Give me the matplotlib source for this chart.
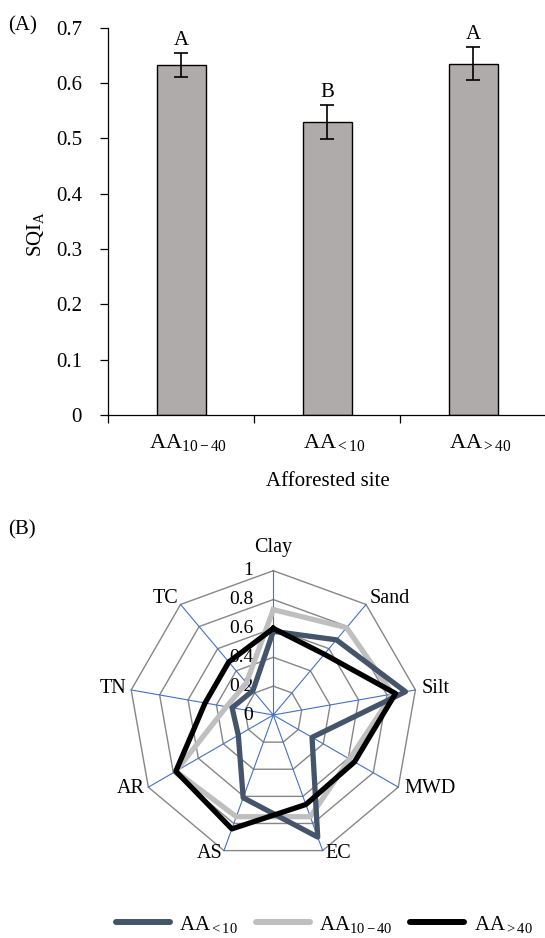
import numpy as np
import matplotlib
matplotlib.use("Agg")
import matplotlib.pyplot as plt
import matplotlib.transforms as mtransforms
from matplotlib.lines import Line2D

plt.rcParams['font.family'] = ['Liberation Serif', 'DejaVu Serif']
plt.rcParams['mathtext.fontset'] = 'custom'
plt.rcParams['mathtext.rm'] = 'Liberation Serif'
plt.rcParams['mathtext.it'] = 'Liberation Serif:italic'
plt.rcParams['mathtext.bf'] = 'Liberation Serif:bold'

# ---- (A) soil quality index per afforested site ----
sites = [r'$\mathrm{AA}_{\mathrm{10-40}}$', r'$\mathrm{AA}_{<10}$', r'$\mathrm{AA}_{>40}$']
sqi_mean = [0.632, 0.529, 0.635]
sqi_err = [0.022, 0.031, 0.030]
sig_letters = ['A', 'B', 'A']
sqi_ticks = [0, 0.1, 0.2, 0.3, 0.4, 0.5, 0.6, 0.7]

# ---- (B) normalised indicator scores ----
indicators = ['Clay', 'Sand', 'Silt', 'MWD', 'EC', 'AS', 'AR', 'TN', 'TC']
aa_lt10 = [0.58, 0.68, 0.93, 0.31, 0.90, 0.61, 0.28, 0.29, 0.22]
aa_10_40 = [0.73, 0.79, 0.84, 0.61, 0.75, 0.75, 0.78, 0.33, 0.29]
aa_gt40 = [0.60, 0.55, 0.86, 0.65, 0.66, 0.84, 0.78, 0.48, 0.48]
radar_ticks = [0, 0.2, 0.4, 0.6, 0.8, 1.0]
radar_tick_labels = ['0', '0.2', '0.4', '0.6', '0.8', '1']
legend_labels = [r'$\mathrm{AA}_{<10}$', r'$\mathrm{AA}_{\mathrm{10-40}}$', r'$\mathrm{AA}_{>40}$']

W, H, DPI = 545, 938, 100
PT = 0.72  # points per pixel at 100 dpi
fig = plt.figure(figsize=(W / DPI, H / DPI), dpi=DPI)

FS = 15

# ---------------- bar chart ----------------
axL, axR = 108.3, 546.5
axT, axB = 27.7, 415.0
ax = fig.add_axes([axL / W, 1 - axB / H, (axR - axL) / W, (axB - axT) / H])
x = np.arange(len(sites))
ax.bar(x, sqi_mean, width=0.333, color='#afabaa', edgecolor='black', linewidth=1.0, zorder=2)
ax.errorbar(x, sqi_mean, yerr=sqi_err, fmt='none', ecolor='black', elinewidth=1.2,
            capsize=5, capthick=1.2, zorder=3)
for xi, m, e, s in zip(x, sqi_mean, sqi_err, sig_letters):
    ax.annotate(s, xy=(xi, m + e), xytext=(0, 8 * PT), textcoords='offset points',
                ha='center', va='baseline', fontsize=FS)
ax.set_xlim(-0.5, 2.5)
ax.set_ylim(0, 0.7)
ax.set_yticks(sqi_ticks)
ax.set_yticklabels(['0' if t == 0 else f'{t:g}' for t in sqi_ticks], fontsize=FS)
ax.tick_params(axis='y', direction='out', length=6, width=0.9, pad=13)
# boundary ticks between categories, labels at category centres
ax.set_xticks([-0.5, 0.5, 1.5, 2.5])
ax.set_xticklabels([])
ax.set_xticks(x, minor=True)
ax.set_xticklabels(sites, minor=True, fontsize=FS + 1)
ax.tick_params(axis='x', which='major', direction='out', length=6, width=0.9)
ax.tick_params(axis='x', which='minor', length=0, pad=12)
shift = mtransforms.ScaledTranslation(7 / DPI, 0, fig.dpi_scale_trans)
for lab in ax.get_xticklabels(minor=True):
    lab.set_transform(lab.get_transform() + shift)
for sp in ['top', 'right']:
    ax.spines[sp].set_visible(False)
for sp in ['left', 'bottom']:
    ax.spines[sp].set_linewidth(0.9)
ax.set_xlabel('Afforested site', fontsize=FS, labelpad=14)
fig.text(35 / W, 1 - 234 / H, r'SQI$_\mathrm{A}$', rotation=90, ha='center', va='center', fontsize=FS)
fig.text(8 / W, 1 - 25.5 / H, '(A)', ha='left', va='center', fontsize=FS)

# ---------------- radar chart ----------------
cx, cy, R = 273.3, 715.0, 144.3
rax = fig.add_axes([(cx - R) / W, 1 - (cy + R) / H, 2 * R / W, 2 * R / H], projection='polar')
rax.set_theta_zero_location('N')
rax.set_theta_direction(-1)
rax.set_ylim(0, 1)
rax.grid(False)
rax.set_xticks([])
rax.set_yticks([])
rax.spines['polar'].set_visible(False)
rax.patch.set_visible(False)

n = len(indicators)
theta = np.arange(n) * 2 * np.pi / n
theta_c = np.append(theta, theta[0])

for r in radar_ticks[1:]:
    rax.plot(theta_c, [r] * (n + 1), color='#868686', lw=1.0, clip_on=False, zorder=1)
for t in theta:
    rax.plot([t, t], [0, 1], color='#4472c4', lw=0.8, clip_on=False, zorder=1)

def closed(v):
    return list(v) + [v[0]]

rax.plot(theta_c, closed(aa_10_40), color='#bfbfbf', lw=3.8, zorder=3, clip_on=False)
rax.plot(theta_c, closed(aa_lt10), color='#44546a', lw=3.8, zorder=4, clip_on=False)
rax.plot(theta_c, closed(aa_gt40), color='black', lw=3.8, zorder=5, clip_on=False)

for r, lab in zip(radar_ticks, radar_tick_labels):
    rax.annotate(lab, xy=(0, r), xytext=(-20 * PT, 0), textcoords='offset points',
                 ha='right', va='center', fontsize=14, zorder=2)

# label offsets (px) and alignment for each indicator
label_style = {
    'Clay': (0, 19, 'center'),
    'Sand': (4, 1.4, 'left'),
    'Silt': (6.6, -2.7, 'left'),
    'MWD': (6, -5.5, 'left'),
    'EC': (2.4, -7.7, 'left'),
    'AS': (-1, -7.7, 'right'),
    'AR': (-3.3, -5.5, 'right'),
    'TN': (-4.5, -2.7, 'right'),
    'TC': (-2.4, 1.4, 'right'),
}
for t, name in zip(theta, indicators):
    dx, dy, ha = label_style[name]
    rax.annotate(name, xy=(t, 1), xytext=(dx * PT, dy * PT), textcoords='offset points',
                 ha=ha, va='baseline', fontsize=14.5, annotation_clip=False)

fig.text(8 / W, 1 - 530 / H, '(B)', ha='left', va='center', fontsize=FS)

handles = [Line2D([], [], color=c, lw=4.3, solid_capstyle='round')
           for c in ['#44546a', '#bfbfbf', 'black']]
fig.legend(handles, legend_labels, loc='center', bbox_to_anchor=(324 / W, 1 - 924 / H),
           ncol=3, frameon=False, fontsize=FS, handlelength=2.6, handletextpad=0.45,
           columnspacing=0.85, borderpad=0, borderaxespad=0)

fig.savefig('out.png', dpi=DPI)
